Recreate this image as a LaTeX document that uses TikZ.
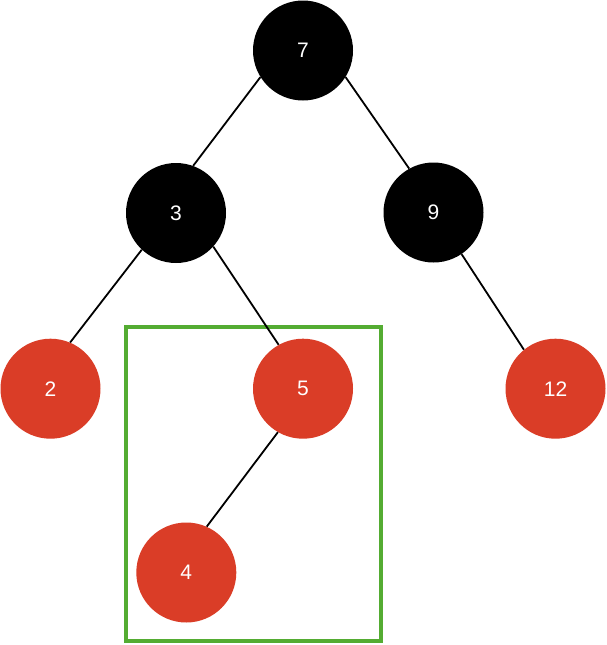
\documentclass[tikz,border=0pt]{standalone}
\usepackage{fontspec}
\setmainfont{Liberation Sans}
\definecolor{rbred}{RGB}{218,61,39}
\definecolor{boxgreen}{RGB}{84,172,50}
\tikzset{
  blk/.style={circle, fill=black, minimum size=100pt, inner sep=0pt, text=white, font=\fontsize{21}{24}\selectfont},
  rd/.style={circle, fill=rbred, minimum size=100pt, inner sep=0pt, text=white, font=\fontsize{21}{24}\selectfont},
  edge/.style={draw=black, line width=1.8pt},
  hl/.style={draw=boxgreen, line width=4pt}
}
\begin{document}
\begin{tikzpicture}[x=1pt,y=-1pt]
\useasboundingbox (0,0) rectangle (607,645);
\fill[white] (0,0) rectangle (607,645);
\node[hl, minimum width=255pt, minimum height=314pt, inner sep=0pt] (box) at (253,484) {};
\node[blk] (n7) at (303,50.5) {7};
\node[blk] (n3) at (176,213) {3};
\node[blk] (n9) at (433.5,212.5) {9};
\node[rd] (n2) at (50.5,388.7) {2};
\node[rd] (n5) at (303,388.7) {5};
\node[rd] (n12) at (555.5,388.7) {12};
\node[rd] (n4) at (186.3,572.5) {4};
\draw[edge] (n7.212) -- (n3.70);
\draw[edge] (n7.-32) -- (n9.119);
\draw[edge] (n3.227) -- (n2.67);
\draw[edge] (n3.-42) -- (n5.119);
\draw[edge] (n9.-56) -- (n12.129);
\draw[edge] (n5.240) -- (n4.66);
\end{tikzpicture}
\end{document}
